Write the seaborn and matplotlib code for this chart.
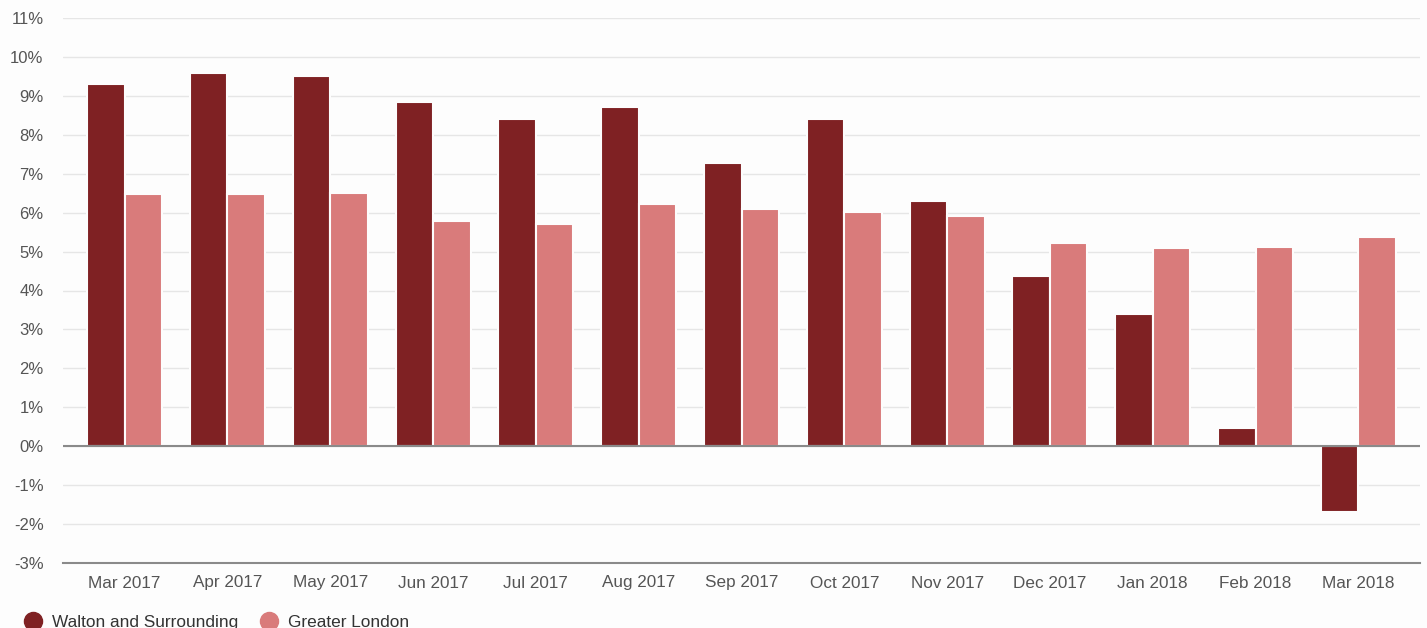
import pandas as pd
import numpy as np
import matplotlib.pyplot as plt
import seaborn as sns
from matplotlib.lines import Line2D
from matplotlib.ticker import FuncFormatter

months = ["Mar 2017", "Apr 2017", "May 2017", "Jun 2017", "Jul 2017", "Aug 2017",
          "Sep 2017", "Oct 2017", "Nov 2017", "Dec 2017", "Jan 2018", "Feb 2018", "Mar 2018"]
walton = [9.31, 9.59, 9.51, 8.84, 8.41, 8.71, 7.27, 8.41, 6.30, 4.37, 3.39, 0.46, -1.70]
london = [6.48, 6.48, 6.50, 5.78, 5.71, 6.22, 6.09, 6.02, 5.91, 5.22, 5.09, 5.12, 5.37]
series = ["Walton and Surrounding", "Greater London"]
colors = ["#7f2123", "#d97b7b"]

data = pd.DataFrame({
    "month": months * 2,
    "value": walton + london,
    "area": [series[0]] * len(months) + [series[1]] * len(months),
})

sns.set_style("white")
plt.rcParams['font.family'] = ['Liberation Sans', 'DejaVu Sans']

fig = plt.figure(figsize=(14.27, 6.28), dpi=100, facecolor="#fdfdfd")
ax = fig.add_axes([63 / 1427, 1 - 563 / 628, (1420 - 63) / 1427, (563 - 18) / 628])
ax.set_facecolor("#fdfdfd")

sns.barplot(data=data, x="month", y="value", hue="area", order=months, hue_order=series,
            palette=colors, width=0.73, saturation=1, edgecolor="#fdfdfd", linewidth=1.5,
            legend=False, ax=ax)

ax.set_ylim(-3, 11)
ax.set_xlim(-0.6, 12.6)
ax.set_yticks(np.arange(-3, 12, 1))
ax.yaxis.set_major_formatter(FuncFormatter(lambda v, p: f"{int(round(v))}%"))
ax.yaxis.grid(True, color="#e6e6e6", linewidth=1)
ax.set_axisbelow(True)
ax.axhline(0, color="#8a8a8a", linewidth=1.5, zorder=3)
for s in ["top", "right", "left"]:
    ax.spines[s].set_visible(False)
ax.spines["bottom"].set_color("#8a8a8a")
ax.spines["bottom"].set_linewidth(1.5)
ax.tick_params(axis="y", length=0, labelsize=12, labelcolor="#555555", pad=14)
ax.tick_params(axis="x", length=5, color="#aaaaaa", labelsize=12.3, labelcolor="#555555", pad=4)
ax.set_xlabel("")
ax.set_ylabel("")

handles = [Line2D([], [], marker="o", linestyle="", markersize=13, color=c) for c in colors]
fig.legend(handles, series, loc="center left", bbox_to_anchor=(0, 1 - 622 / 628),
           ncol=2, frameon=False, fontsize=12.4, handletextpad=0.1, columnspacing=0.8,
           labelcolor="#333333")

fig.savefig("out.png", dpi=100, facecolor=fig.get_facecolor())
plt.close()
